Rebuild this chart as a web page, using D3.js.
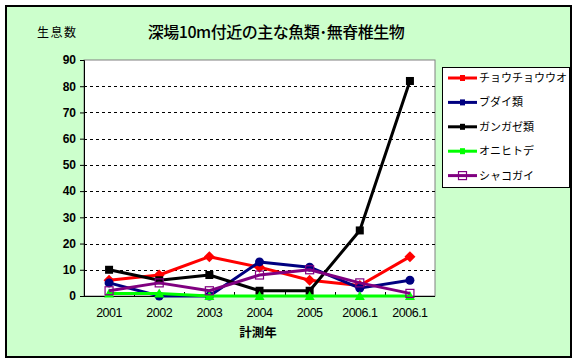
<!DOCTYPE html>
<html>
<head>
<meta charset="utf-8">
<script src="https://cdn.jsdelivr.net/npm/d3@7"></script>
<style>
  body { margin: 0; background: #fff; }
  text { font-family: "Noto Sans CJK JP", "DejaVu Sans", sans-serif; }
</style>
</head>
<body>
<div id="chart"></div>
<script>
// Data
var years = ["2001", "2002", "2003", "2004", "2005", "2006.1", "2006.1 "];
var yTicks = [0, 10, 20, 30, 40, 50, 60, 70, 80, 90];
var seriesNames = ["チョウチョウウオ", "ブダイ類", "ガンガゼ類", "オニヒトデ", "シャコガイ"];
var butterflyfish = [6, 8, 15, 11, 6, 4, 15];
var parrotfish = [5, 0, 0, 13, 11, 3, 6];
var urchins = [10, 6, 8, 2, 2, 25, 82];
var crownOfThorns = [1, 1, 0, 0, 0, 0, 0];
var clams = [2, 5, 2, 8, 10, 5, 1];

var seriesValues = [butterflyfish, parrotfish, urchins, crownOfThorns, clams];
var seriesColors = ["#ff0000", "#000080", "#000000", "#00ff00", "#800080"];
var seriesMarkers = ["diamond", "circle", "square", "triangle", "hollow"];

var W = 576, H = 363;
var plot = {left: 84, top: 60, right: 435, bottom: 296};

var svg = d3.select("#chart").append("svg")
    .attr("width", W)
    .attr("height", H);

// background and outer border
svg.append("rect")
    .attr("x", 6).attr("y", 6)
    .attr("width", 565).attr("height", 351)
    .style("fill", "#ccffcc")
    .style("stroke", "#000")
    .style("stroke-width", 2);

var x = d3.scaleBand().domain(years).range([plot.left, plot.right]);
var y = d3.scaleLinear().domain([0, 90]).range([plot.bottom, plot.top]);

// plot area
svg.append("rect")
    .attr("x", plot.left).attr("y", plot.top)
    .attr("width", plot.right - plot.left).attr("height", plot.bottom - plot.top)
    .style("fill", "#fff")
    .style("stroke", "#808080")
    .style("stroke-width", 1);

// dashed gridlines
svg.selectAll(".grid")
    .data(yTicks.filter(function(t) { return t > 0 && t < 90; }))
    .enter().append("line")
    .attr("x1", plot.left).attr("x2", plot.right)
    .attr("y1", function(t) { return Math.round(y(t)) + 0.5; })
    .attr("y2", function(t) { return Math.round(y(t)) + 0.5; })
    .style("stroke", "#000")
    .style("stroke-dasharray", "3,3");

// Y axis
var yAxis = svg.append("g")
    .attr("transform", "translate(" + plot.left + ",0)")
    .call(d3.axisLeft(y).tickValues(yTicks).tickSize(4).tickPadding(4));
yAxis.select(".domain").style("stroke", "#000");
yAxis.selectAll("text")
    .style("font-family", "'Liberation Sans', Arial, sans-serif")
    .style("font-size", "12px")
    .style("font-weight", "bold")
    .style("fill", "#000");

// X axis
var xAxis = svg.append("g")
    .attr("transform", "translate(0," + plot.bottom + ")")
    .call(d3.axisBottom(x).tickSize(0).tickPadding(12));
xAxis.select(".domain").remove();
xAxis.selectAll("text")
    .style("font-family", "'Liberation Sans', Arial, sans-serif")
    .style("font-size", "12.5px")
    .style("letter-spacing", "-0.5px")
    .style("fill", "#000");

svg.append("line")
    .attr("x1", plot.left).attr("x2", plot.right)
    .attr("y1", plot.bottom + 0.5).attr("y2", plot.bottom + 0.5)
    .style("stroke", "#000");

// category boundary ticks (inside)
svg.selectAll(".xtick")
    .data(years.slice(1))
    .enter().append("line")
    .attr("x1", function(d) { return Math.round(x(d)) + 0.5; })
    .attr("x2", function(d) { return Math.round(x(d)) + 0.5; })
    .attr("y1", plot.bottom)
    .attr("y2", plot.bottom - 4)
    .style("stroke", "#000");

// Series lines
var line = d3.line()
    .x(function(v, i) { return x(years[i]) + x.bandwidth() / 2; })
    .y(function(v) { return y(v); });

function drawMarker(g, type, color, cx, cy) {
    if (type == "diamond") {
        g.append("path")
            .attr("d", "M" + cx + "," + (cy - 5.5) + "L" + (cx + 5.5) + "," + cy + "L" + cx + "," + (cy + 5.5) + "L" + (cx - 5.5) + "," + cy + "Z")
            .style("fill", color);
    } else if (type == "circle") {
        g.append("circle").attr("cx", cx).attr("cy", cy).attr("r", 4.5).style("fill", color);
    } else if (type == "square") {
        g.append("rect").attr("x", cx - 4).attr("y", cy - 4).attr("width", 8).attr("height", 8).style("fill", color);
    } else if (type == "triangle") {
        g.append("path")
            .attr("d", "M" + cx + "," + (cy - 5) + "L" + (cx + 5) + "," + (cy + 4) + "L" + (cx - 5) + "," + (cy + 4) + "Z")
            .style("fill", color);
    } else {
        g.append("rect").attr("x", cx - 4).attr("y", cy - 4).attr("width", 8).attr("height", 8)
            .style("fill", "none").style("stroke", color).style("stroke-width", 1.2);
    }
}

seriesValues.forEach(function(vals, s) {
    var g = svg.append("g");
    g.append("path")
        .datum(vals)
        .attr("d", line)
        .style("fill", "none")
        .style("stroke", seriesColors[s])
        .style("stroke-width", 3)
        .style("stroke-linejoin", "round");
    vals.forEach(function(v, i) {
        drawMarker(g, seriesMarkers[s], seriesColors[s], x(years[i]) + x.bandwidth() / 2, y(v));
    });
});

// Titles
svg.append("text")
    .attr("x", 276).attr("y", 38)
    .style("text-anchor", "middle")
    .style("font-size", "16px")
    .style("font-weight", "500")
    .style("letter-spacing", "-0.5px")
    .text("深場10m付近の主な魚類･無脊椎生物");

svg.append("text")
    .attr("x", 37).attr("y", 37)
    .style("font-size", "12px")
    .style("letter-spacing", "1.5px")
    .text("生息数");

svg.append("text")
    .attr("x", 258).attr("y", 337)
    .style("text-anchor", "middle")
    .style("font-size", "12.5px")
    .style("font-weight", "bold")
    .text("計測年");

// Legend
svg.append("rect")
    .attr("x", 442.5).attr("y", 67.5)
    .attr("width", 127).attr("height", 120)
    .style("fill", "#fff")
    .style("stroke", "#000");

var legend = svg.selectAll(".legend")
    .data(seriesNames)
    .enter().append("g")
    .attr("class", "legend")
    .attr("transform", function(d, i) { return "translate(0," + (78 + i * 24.4) + ")"; });

legend.append("line")
    .attr("x1", 448).attr("x2", 477)
    .attr("y1", 0).attr("y2", 0)
    .style("stroke", function(d, i) { return seriesColors[i]; })
    .style("stroke-width", 3);

legend.each(function(d, i) {
    var g = d3.select(this);
    if (seriesMarkers[i] == "hollow") {
        drawMarker(g, "hollow", seriesColors[i], 462.5, 0);
    } else {
        g.append("rect").attr("x", 460).attr("y", -3).attr("width", 5).attr("height", 6)
            .style("fill", seriesColors[i]);
    }
});

legend.append("text")
    .attr("x", 479).attr("y", 4)
    .style("font-size", "11px")
    .text(function(d) { return d; });
</script>
</body>
</html>
